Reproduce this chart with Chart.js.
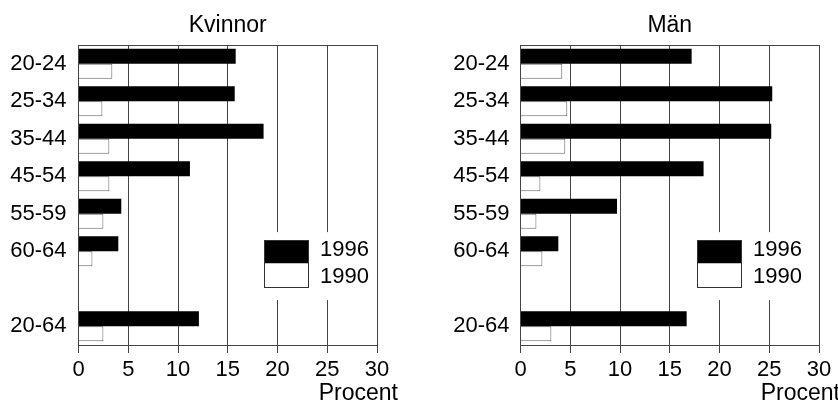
<!DOCTYPE html>
<html>
<head>
<meta charset="utf-8">
<script src="https://cdn.jsdelivr.net/npm/chart.js@4.4.1/dist/chart.umd.min.js"></script>
<style>
    html, body { margin: 0; padding: 0; background: #fff; }
    body { width: 838px; height: 405px; overflow: hidden; position: relative; }
    .panel { position: absolute; top: 0; width: 442px; height: 405px; }
    #panel-left { left: 0; }
    #panel-right { left: 442px; }
</style>
</head>
<body>
<div class="panel" id="panel-left"><canvas id="chart-kvinnor"></canvas></div>
<div class="panel" id="panel-right"><canvas id="chart-man"></canvas></div>
<script>
// Andel (procent) per åldersgrupp, 1996 och 1990
const ageGroups = ['20-24', '25-34', '35-44', '45-54', '55-59', '60-64', '', '20-64'];
const kvinnor1996 = [15.8, 15.7, 18.6, 11.2, 4.3, 4.0, null, 12.1];
const kvinnor1990 = [3.4, 2.4, 3.1, 3.1, 2.5, 1.4, null, 2.5];
const man1996 = [17.2, 25.3, 25.2, 18.4, 9.7, 3.8, null, 16.7];
const man1990 = [4.2, 4.7, 4.5, 2.0, 1.6, 2.2, null, 3.1];
const seriesLabels = ['1996', '1990'];
const xMax = 30;
const xStep = 5;
const axisTitle = 'Procent';

const FONT = 'Liberation Sans, Arial, Helvetica, sans-serif';
const LINE = '#444';

// ram upptill, legend i diagrammet och axeltitel
const framePlugin = {
    id: 'frame',
    afterDatasetsDraw(chart, args, opts) {
        const ctx = chart.ctx;
        const a = chart.chartArea;
        ctx.save();
        ctx.strokeStyle = LINE;
        ctx.lineWidth = 1;
        ctx.beginPath();
        ctx.moveTo(a.left, Math.round(a.top) + 0.5);
        ctx.lineTo(a.right + 0.5, Math.round(a.top) + 0.5);
        ctx.stroke();

        // legend
        const lg = opts.legend;
        ctx.fillStyle = '#fff';
        ctx.fillRect(a.left + lg.boxX, a.top + lg.boxY, lg.boxW, lg.boxH);
        const sx = Math.round(a.left + lg.swX) + 0.5;
        const sy = Math.round(a.top + lg.swY) + 0.5;
        const ds = chart.data.datasets;
        ctx.fillStyle = ds[0].backgroundColor;
        ctx.fillRect(sx, sy, lg.swW, lg.swH1);
        ctx.fillStyle = ds[1].backgroundColor;
        ctx.fillRect(sx, sy + lg.swH1, lg.swW, lg.swH2);
        ctx.strokeStyle = '#333';
        ctx.strokeRect(sx, sy, lg.swW, lg.swH1 + lg.swH2);

        ctx.fillStyle = '#000';
        ctx.font = '22px ' + FONT;
        ctx.textAlign = 'left';
        ctx.textBaseline = 'middle';
        ctx.fillText(ds[0].label, a.left + lg.textX, a.top + lg.textY1);
        ctx.fillText(ds[1].label, a.left + lg.textX, a.top + lg.textY2);

        // axeltitel
        ctx.font = '23px ' + FONT;
        ctx.textAlign = 'right';
        ctx.fillText(axisTitle, a.right + 21, 394);
        ctx.restore();
    }
};

function makePanel(canvasId, title, v1996, v1990, legendPos, yPad) {
    const ctx = document.getElementById(canvasId).getContext('2d');
    return new Chart(ctx, {
        type: 'bar',
        data: {
            labels: ageGroups,
            datasets: [
                {
                    label: seriesLabels[0],
                    data: v1996,
                    backgroundColor: '#000',
                    borderWidth: 0,
                    categoryPercentage: 0.8,
                    barPercentage: 1.0
                },
                {
                    label: seriesLabels[1],
                    data: v1990,
                    backgroundColor: '#fff',
                    borderColor: '#666',
                    borderWidth: 1,
                    categoryPercentage: 0.8,
                    barPercentage: 1.0
                }
            ]
        },
        options: {
            indexAxis: 'y',
            responsive: true,
            maintainAspectRatio: false,
            animation: false,
            layout: { padding: { left: 0, right: 65, top: 0, bottom: 0 } },
            plugins: {
                legend: { display: false },
                tooltip: { enabled: false },
                title: {
                    display: true,
                    text: title,
                    fullSize: false,
                    color: '#000',
                    font: { family: FONT, size: 23, weight: 'normal' },
                    padding: { top: 12, bottom: 5.5 }
                },
                frame: { legend: legendPos }
            },
            scales: {
                x: {
                    min: 0,
                    max: xMax,
                    grid: { color: LINE, tickLength: 8, drawTicks: true },
                    border: { display: true, color: LINE },
                    ticks: {
                        stepSize: xStep,
                        color: '#000',
                        padding: 4,
                        font: { family: FONT, size: 22 }
                    },
                    afterFit: (scale) => { scale.height = 60; }
                },
                y: {
                    grid: { display: false, drawTicks: false },
                    border: { display: true, color: LINE },
                    ticks: {
                        color: '#000',
                        padding: yPad,
                        autoSkip: false,
                        font: { family: FONT, size: 22 }
                    },
                    afterFit: (scale) => { scale.width = 78.5; }
                }
            }
        },
        plugins: [framePlugin]
    });
}

makePanel('chart-kvinnor', 'Kvinnor', kvinnor1996, kvinnor1990, {
    boxX: 174, boxY: 187, boxW: 122, boxH: 68,
    swX: 185, swY: 195, swW: 44, swH1: 23, swH2: 24,
    textX: 241.5, textY1: 205, textY2: 231.5
}, 12);

makePanel('chart-man', 'Män', man1996, man1990, {
    boxX: 166, boxY: 187, boxW: 128, boxH: 68,
    swX: 176.6, swY: 195, swW: 44, swH1: 23, swH2: 24,
    textX: 232.6, textY1: 205, textY2: 231.5
}, 11);
</script>
</body>
</html>
